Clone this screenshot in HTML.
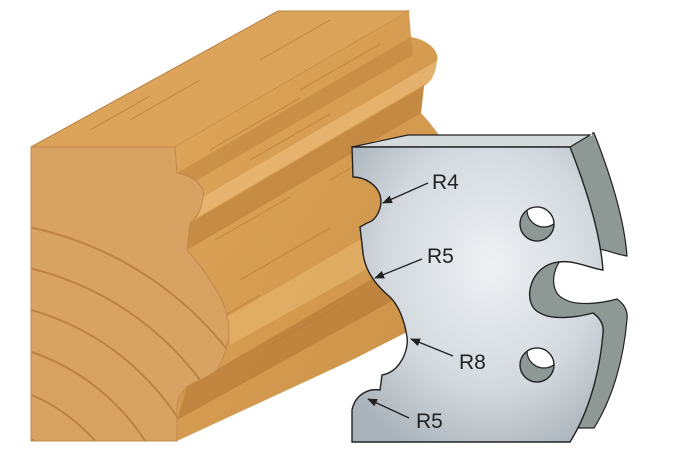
<!DOCTYPE html>
<html><head><meta charset="utf-8"><style>
html,body{margin:0;padding:0;background:#fff;width:679px;height:455px;overflow:hidden}
svg{display:block}
</style></head><body>
<svg width="679" height="455" viewBox="0 0 679 455" xmlns="http://www.w3.org/2000/svg">
<defs>
<linearGradient id="side" x1="0" y1="0" x2="1" y2="1">
<stop offset="0" stop-color="#e0a85c"/><stop offset="1" stop-color="#c98f45"/>
</linearGradient>
<radialGradient id="face" cx="0.55" cy="0.4" r="0.7">
<stop offset="0" stop-color="#eef1f4"/><stop offset="0.6" stop-color="#d3d9de"/><stop offset="1" stop-color="#aab3ba"/>
</radialGradient>
<clipPath id="fc"><path d="M31,147 L175,147 L177,173 C195,176 206,188 203,197 C201,210 198,217 190,223 L187,250 C205,270 225,300 227,317 C231,330 230,345 217,370 C205,380 192,382 187,387 C180,395 177,400 177,407 L177,441 L31,441 Z"/></clipPath>
<clipPath id="rc"><path d="M592,0 L679,0 L679,455 L490,455 L490,136 L592,136 Z"/></clipPath>
<marker id="ar" markerWidth="10" markerHeight="8" refX="9" refY="4" orient="auto" markerUnits="userSpaceOnUse"><path d="M0,0 L10,4 L0,8 Z" fill="#222"/></marker>
</defs>
<path d="M31,147 L278,11 L409,11 L175,147 Z" fill="#dca35a" stroke="#b98040" stroke-width="1"/>
<path d="M175,147 L409,11 L411,37 C429,40 440,52 437,61 C435,74 432,81 424,86 L421,113 C440,133 459,164 461,181 L470,300 L352,360 L177,441 L177,407 C177,400 180,395 187,387 C192,382 205,380 217,370 C230,345 231,330 227,317 C225,300 205,270 187,250 L190,223 C198,217 201,210 203,197 C206,188 195,176 177,173 Z" fill="url(#side)"/>
<path d="M177,173 L411,37 L413,55 L180,190 Z" fill="#c08540" opacity="0.6"/>
<path d="M190,223 L424,86 L421,113 L187,250 Z" fill="#b97e3a" opacity="0.6"/>
<path d="M203,197 L437,61 L432,80 L198,217 Z" fill="#efc27e" opacity="0.6"/>
<path d="M227,317 L461,181 L464,215 L230,345 Z" fill="#e9b871" opacity="0.6"/>
<path d="M187,387 L420,251 L412,290 L177,420 Z" fill="#b27835" opacity="0.6"/>
<g stroke="#b57a36" stroke-width="1.2" opacity="0.6">
<line x1="210" y1="150" x2="300" y2="98"/><line x1="250" y1="160" x2="330" y2="114"/><line x1="215" y1="240" x2="290" y2="197"/>
<line x1="240" y1="280" x2="330" y2="228"/><line x1="200" y1="330" x2="260" y2="295"/><line x1="300" y1="90" x2="380" y2="44"/>
<line x1="260" y1="60" x2="330" y2="20"/><line x1="130" y1="120" x2="200" y2="80"/><line x1="90" y1="130" x2="150" y2="96"/>
<line x1="330" y1="180" x2="410" y2="134"/><line x1="270" y1="345" x2="340" y2="305"/>
</g>
<g clip-path="url(#fc)">
<rect x="31" y="147" width="200" height="294" fill="#d8a263"/>
<g fill="none" stroke="#b67a3c" stroke-width="2" opacity="0.8">
<circle cx="-40" cy="560" r="300"/><circle cx="-40" cy="560" r="260"/><circle cx="-40" cy="560" r="220"/>
<circle cx="-40" cy="560" r="180"/><circle cx="-40" cy="560" r="140"/><circle cx="-40" cy="560" r="100"/><circle cx="-40" cy="560" r="340"/>
</g>
</g>
<path d="M31,147 L175,147 L177,173 C195,176 206,188 203,197 C201,210 198,217 190,223 L187,250 C205,270 225,300 227,317 C231,330 230,345 217,370 C205,380 192,382 187,387 C180,395 177,400 177,407 L177,441 L31,441 Z" fill="none" stroke="#c28a4a" stroke-width="1"/>
<g clip-path="url(#rc)">
<g transform="translate(24,-14)">
<path fill-rule="evenodd" fill="#8e9894" stroke="#222" stroke-width="1.2" d="M352,147 L570,147 C585,185 600,230 603,270 C588,268 572,258 553,263 C528,270 522,305 540,313 C552,320 575,318 593,313 C600,318 604,325 603,333 C600,370 590,410 570,442 L352,442 Z M520,224 m-17,0 a17,17 0 1,0 34,0 a17,17 0 1,0 -34,0 Z M520,365 m-17,0 a17,17 0 1,0 34,0 a17,17 0 1,0 -34,0 Z"/>
</g>
</g>
<path d="M352,147 L408,135 L590,135 L570,147 Z" fill="#d5dadd" stroke="#222" stroke-width="1.2"/>
<path fill-rule="evenodd" fill="url(#face)" stroke="#222" stroke-width="1.4" d="M352,147 L570,147 C585,185 600,230 603,270 C588,268 572,258 553,263 C528,270 522,305 540,313 C552,320 575,318 593,313 C600,318 604,325 603,333 C600,370 590,410 570,442 L352,442 L352,410 C355,395 368,388 380,390 L382,375 C400,372 409,350 407,337 C404,318 398,305 390,297 C378,287 365,272 363,253 L360,227 L367,223 C378,220 383,205 380,195 C377,185 365,177 353,177 Z M537,224 m-17,0 a17,17 0 1,0 34,0 a17,17 0 1,0 -34,0 Z M537,365 m-17,0 a17,17 0 1,0 34,0 a17,17 0 1,0 -34,0 Z"/>
<g stroke="#222" stroke-width="1.3" marker-end="url(#ar)">
<line x1="428" y1="183" x2="383" y2="203"/>
<line x1="422" y1="259" x2="375" y2="278"/>
<line x1="453" y1="356" x2="411" y2="339"/>
<line x1="409" y1="418" x2="368" y2="399"/>
</g>
<g font-family="Liberation Sans, sans-serif" font-size="21" fill="#222">
<text x="432" y="189">R4</text>
<text x="427" y="263">R5</text>
<text x="459" y="369">R8</text>
<text x="416" y="428">R5</text>
</g>
</svg>
</body></html>
